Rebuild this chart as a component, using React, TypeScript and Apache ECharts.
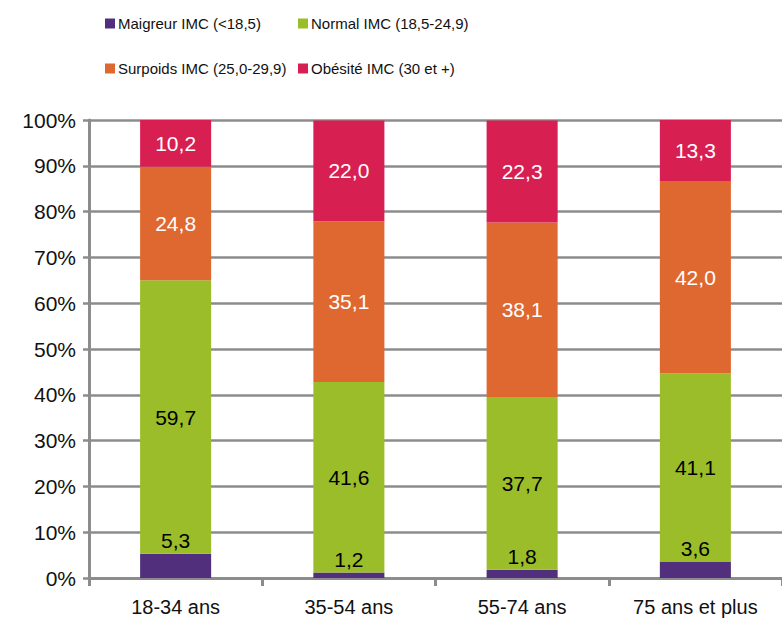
import React, { useEffect, useRef } from "react";
import * as echarts from "echarts";

const categories = ["18-34 ans", "35-54 ans", "55-74 ans", "75 ans et plus"];
const seriesNames = [
  "Maigreur IMC (<18,5)",
  "Normal IMC (18,5-24,9)",
  "Surpoids IMC (25,0-29,9)",
  "Obésité IMC (30 et +)",
];
const maigreur = [5.3, 1.2, 1.8, 3.6];
const normal = [59.7, 41.6, 37.7, 41.1];
const surpoids = [24.8, 35.1, 38.1, 42.0];
const obesite = [10.2, 22.0, 22.3, 13.3];
const yTicks = [0, 10, 20, 30, 40, 50, 60, 70, 80, 90, 100];

const colors = ["#512F7D", "#9ABD29", "#DF6831", "#D81F52"];
const FONT = "'Liberation Sans', Arial, sans-serif";

const fmt = (v: number) => v.toFixed(1).replace(".", ",");

export default function App() {
  const ref = useRef<HTMLDivElement>(null);
  useEffect(() => {
    if (!ref.current) return;
    const chart = echarts.init(ref.current, null, { renderer: "svg" });
    const values = [maigreur, normal, surpoids, obesite];
    const labelColors = ["#000", "#000", "#fff", "#fff"];
    const legendPos = [
      { left: 105, top: 16 },
      { left: 298, top: 16 },
      { left: 105, top: 61 },
      { left: 298, top: 61 },
    ];
    chart.setOption({
      animation: false,
      color: colors,
      textStyle: { fontFamily: FONT },
      legend: seriesNames.map((n, i) => ({
        data: [n],
        left: legendPos[i].left,
        top: legendPos[i].top,
        padding: 0,
        icon: "rect",
        itemWidth: 10,
        itemHeight: 10,
        itemGap: 4,
        selectedMode: false,
        textStyle: { fontSize: 15, color: "#111", fontFamily: FONT, padding: [0, 0, 0, -2] },
      })),
      grid: { left: 89, right: -4, top: 120, bottom: 41, containLabel: false },
      xAxis: {
        type: "category",
        data: categories,
        axisLine: { lineStyle: { color: "#8c8c8c", width: 3 } },
        axisTick: { show: true, length: 8, lineStyle: { color: "#8c8c8c", width: 3 } },
        axisLabel: { fontSize: 20, color: "#111", margin: 19, fontFamily: FONT },
      },
      yAxis: {
        type: "value",
        min: 0,
        max: 100,
        interval: 10,
        axisLine: { show: true, lineStyle: { color: "#8c8c8c", width: 3 } },
        axisTick: { show: true, length: 6, lineStyle: { color: "#8c8c8c", width: 2.5 } },
        splitLine: { show: true, lineStyle: { color: "#8c8c8c", width: 2.5 } },
        axisLabel: {
          fontSize: 21,
          color: "#111",
          margin: 13,
          fontFamily: FONT,
          formatter: (v: number) => (yTicks.includes(v) ? `${v}%` : ""),
        },
      },
      series: seriesNames.map((n, i) => ({
        name: n,
        type: "bar",
        stack: "total",
        barWidth: "41%",
        data: values[i],
        itemStyle: { color: colors[i] },
        label: {
          show: true,
          position: i === 0 ? "top" : "inside",
          distance: 3,
          color: labelColors[i],
          fontSize: 21,
          fontFamily: FONT,
          formatter: (p: any) => fmt(p.value),
        },
      })),
    });
    return () => chart.dispose();
  }, []);
  return <div ref={ref} style={{ width: 782, height: 619, position: "absolute", left: 0, top: 0 }} />;
}
